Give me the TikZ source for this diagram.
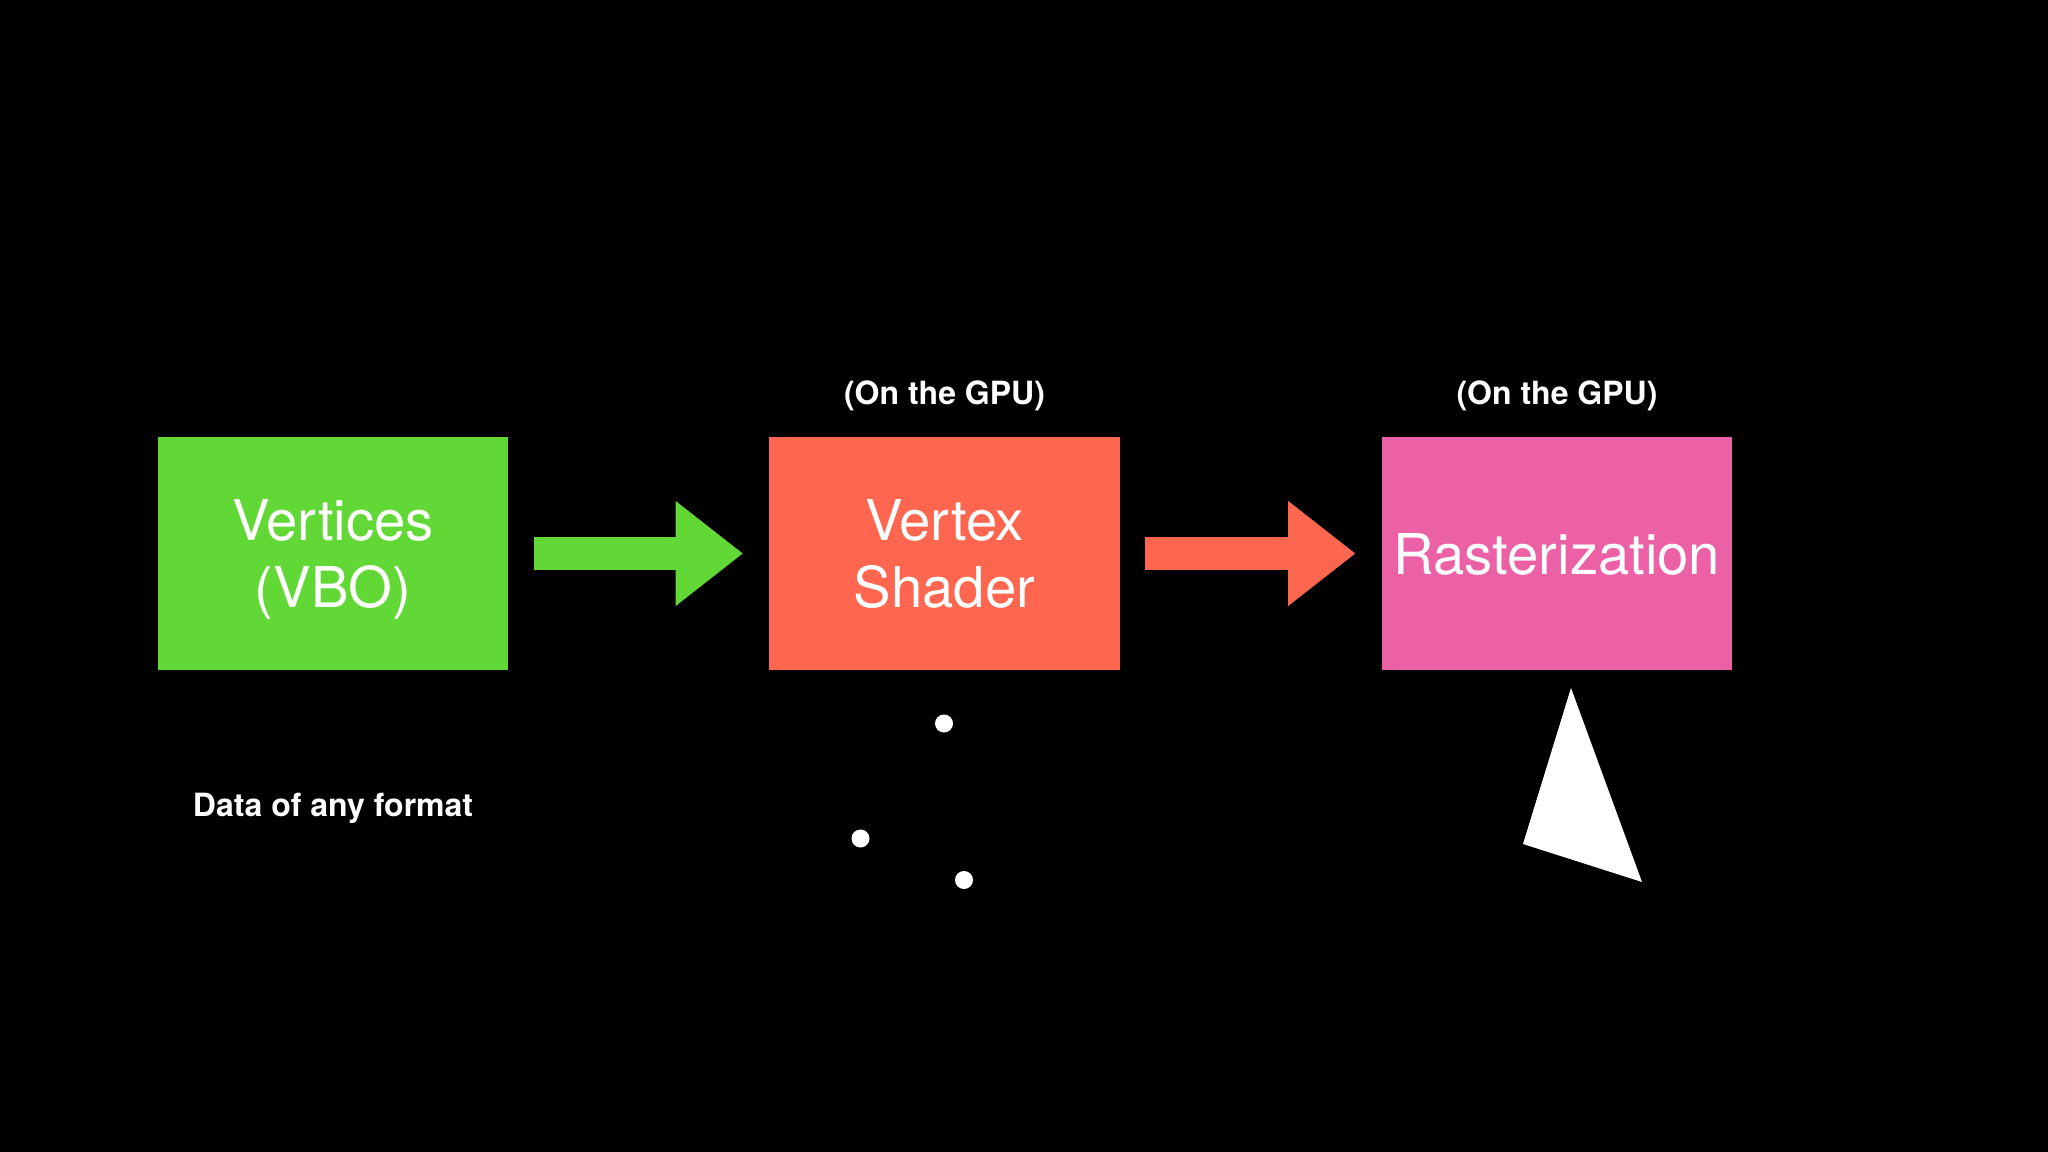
\documentclass[tikz,border=0pt]{standalone}
\usepackage{fontspec}
\setmainfont{TeX Gyre Heros}
\usepackage{tikz}
\usetikzlibrary{arrows.meta,positioning}
\definecolor{vbogreen}{RGB}{98,216,55}
\definecolor{shaderred}{RGB}{255,102,79}
\definecolor{rasterpink}{RGB}{236,96,166}

\begin{document}
\begin{tikzpicture}[x=0.01cm, y=-0.01cm,
    stage/.style={fill=#1, minimum width=3.5cm, minimum height=2.33cm, inner sep=0pt,
        text=white, align=center, text depth=0pt, font=\fontsize{16}{19}\selectfont},
    note/.style={text=white, inner sep=0pt, font=\bfseries\fontsize{9.1}{11}\selectfont},
    flow/.style={#1, line width=0.32cm, shorten <=0.25cm, shorten >=0.26cm,
        -{Triangle[length=0.67cm, width=1.05cm, line width=0pt]}},
    vertexdot/.style={circle, fill=white, minimum size=0.18cm, inner sep=0pt}]
    % background and page size
    \fill[black] (0,0) rectangle (2048,1152);
    \useasboundingbox (0,0) rectangle (2048,1152);

    % pipeline stages
    \node[stage=vbogreen] (verts) at (333,553.5) {Vertices\\(VBO)};
    \node[stage=shaderred] (vshader) at (944.5,553.5) {Vertex\\Shader};
    \node[stage=rasterpink] (raster) at (1557,553.5) {Rasterization};

    % arrows between stages
    \draw[flow=vbogreen] (verts) -- (vshader);
    \draw[flow=shaderred] (vshader) -- (raster);

    % captions
    \node[note] (gpuvs) at (944.5,396) {(On the GPU)};
    \node[note] (gpurast) at (1557,396) {(On the GPU)};
    \node[note] (anydata) at (333,808) {Data of any format};

    % transformed vertices
    \node[vertexdot] (p1) at (944,723.5) {};
    \node[vertexdot] (p2) at (860.5,838.5) {};
    \node[vertexdot] (p3) at (964,880) {};

    % rasterized triangle
    \fill[white] (1571,688) -- (1523,844) -- (1642,882) -- cycle;
\end{tikzpicture}
\end{document}
